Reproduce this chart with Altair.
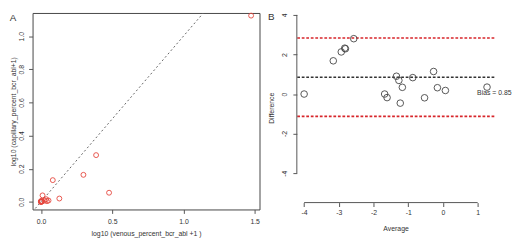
import altair as alt
import pandas as pd

# ---------------- Panel A data ----------------
a_venous = [1.475, 0.387, 0.298, 0.478, 0.083, 0.129, 0.011, 0.0, 0.0, 0.0,
            0.002, 0.005, 0.008, 0.025, 0.036, 0.042, 0.053, 0.0]
a_capillary = [1.124, 0.282, 0.163, 0.055, 0.131, 0.020, 0.039, 0.0, 0.004, 0.0,
               0.0, 0.006, 0.002, 0.008, 0.016, 0.004, 0.008, 0.002]
a_identity = [-0.06, 1.2]
a_xticks = [0.0, 0.5, 1.0, 1.5]
a_yticks = [0.0, 0.2, 0.4, 0.6, 0.8, 1.0]

# ---------------- Panel B data ----------------
b_average = [-4.0, -3.16, -2.93, -2.83, -2.81, -2.57, -1.68, -1.61, -1.34, -1.27,
             -1.17, -1.23, -0.87, -0.53, -0.27, -0.16, 0.07, 1.27]
b_difference = [0.0, 1.68, 2.13, 2.32, 2.29, 2.80, 0.0, -0.18, 0.90, 0.69,
                0.34, -0.46, 0.83, -0.19, 1.14, 0.32, 0.18, 0.35]
b_bias = 0.85
b_limits = [2.83, -1.13]
b_xticks = [-4, -3, -2, -1, 0, 1]
b_yticks = [-4, -2, 0, 2, 4]
b_bias_label = "Bias = 0.85"
b_bias_label_y = 0.05

FONT = "Liberation Sans"
TXT = "#333333"

dfA = pd.DataFrame({"v": a_venous, "c": a_capillary})
dfLine = pd.DataFrame({"v": a_identity, "c": a_identity})

xA = alt.Scale(domain=[-0.059, 1.534], nice=False, zero=False)
yA = alt.Scale(domain=[-0.046, 1.14], nice=False, zero=False)

common_axis = dict(domain=False, grid=False, tickColor="#555555", tickSize=4,
                   labelFont=FONT, labelFontSize=7, labelColor=TXT,
                   titleFont=FONT, titleFontSize=7, titleFontWeight="normal",
                   titleColor=TXT)

axA_x = alt.Axis(values=a_xticks, format=".1f", title="log10 (venous_percent_bcr_abl +1 )",
                 labelPadding=4.5, titlePadding=5, **common_axis)
axA_y = alt.Axis(values=a_yticks, format=".1f", title="log10 (capillary_percent_bcr_abl+1)",
                 labelAngle=-90, labelAlign="center", labelBaseline="bottom",
                 labelPadding=4.2, titlePadding=1.5, **common_axis)

lineA = alt.Chart(dfLine).mark_line(clip=True, color="#666666", strokeWidth=1,
                                    strokeDash=[2, 2.5]).encode(
    x=alt.X("v:Q", scale=xA, axis=axA_x),
    y=alt.Y("c:Q", scale=yA, axis=axA_y),
)
ptsA = alt.Chart(dfA).mark_point(shape="circle", size=25, filled=False,
                                 color="#e5463d", strokeWidth=0.9, opacity=1).encode(
    x=alt.X("v:Q", scale=xA, axis=axA_x),
    y=alt.Y("c:Q", scale=yA, axis=axA_y),
)
labA = alt.Chart(pd.DataFrame({"t": ["A"]})).mark_text(
    font=FONT, fontSize=10, color=TXT, align="center", baseline="middle"
).encode(x=alt.value(-20), y=alt.value(5), text="t:N")

panelA = alt.layer(lineA, ptsA, labA).properties(
    width=231, height=200,
    view=alt.ViewBackground(stroke="#444444", strokeWidth=1),
)

# ---------------- Panel B ----------------
dfB = pd.DataFrame({"a": b_average, "d": b_difference})
xB = alt.Scale(domain=[-4.21, 1.48], nice=False, zero=False)
yB = alt.Scale(domain=[-5.49, 4.1], nice=False, zero=False)

axB_x = alt.Axis(values=b_xticks, labelExpr="'' + datum.value", title="Average",
                 labelPadding=2.5, titlePadding=9, **common_axis)
axB_y = alt.Axis(values=b_yticks, labelExpr="'' + datum.value", title="Difference",
                 labelAngle=-90, labelAlign="center", labelBaseline="bottom",
                 labelPadding=5.5, titlePadding=6.5, **common_axis)

ptsB = alt.Chart(dfB).mark_point(shape="circle", size=45, filled=False,
                                 color="#444444", strokeWidth=0.9, opacity=1).encode(
    x=alt.X("a:Q", scale=xB, axis=axB_x),
    y=alt.Y("d:Q", scale=yB, axis=axB_y),
)
dfLim = pd.DataFrame({"y": b_limits})
limB = alt.Chart(dfLim).mark_rule(color="#d7262b", strokeWidth=1.6,
                                  strokeDash=[2.8, 1.8]).encode(
    y=alt.Y("y:Q", scale=yB, axis=axB_y)
)
biasB = alt.Chart(pd.DataFrame({"y": [b_bias]})).mark_rule(
    color="#333333", strokeWidth=1.6, strokeDash=[2.8, 1.8]).encode(
    y=alt.Y("y:Q", scale=yB, axis=axB_y)
)
yAxisLine = alt.Chart(pd.DataFrame({"y0": [min(b_yticks)], "y1": [max(b_yticks)]})).mark_rule(
    color="#555555", strokeWidth=1).encode(
    x=alt.value(0),
    y=alt.Y("y0:Q", scale=yB, axis=axB_y), y2="y1:Q",
)
xAxisLine = alt.Chart(pd.DataFrame({"x0": [min(b_xticks)], "x1": [max(b_xticks)]})).mark_rule(
    color="#555555", strokeWidth=1).encode(
    y=alt.value(193),
    x=alt.X("x0:Q", scale=xB, axis=axB_x), x2="x1:Q",
)
biasText = alt.Chart(pd.DataFrame({"x": [xB.domain[1]], "y": [b_bias_label_y],
                                   "t": [b_bias_label]})).mark_text(
    font=FONT, fontSize=7, color=TXT, align="center", baseline="middle"
).encode(
    x=alt.X("x:Q", scale=xB, axis=axB_x),
    y=alt.Y("y:Q", scale=yB, axis=axB_y),
    text="t:N",
)
labB = alt.Chart(pd.DataFrame({"t": ["B"]})).mark_text(
    font=FONT, fontSize=10, color=TXT, align="center", baseline="middle"
).encode(x=alt.value(-26), y=alt.value(4), text="t:N")

panelB = alt.layer(limB, biasB, yAxisLine, xAxisLine, ptsB, biasText, labB).properties(
    width=201, height=193,
    view=alt.ViewBackground(strokeWidth=0),
)

chart = alt.hconcat(panelA, panelB, spacing=6).properties(
    padding=0, background="white"
).configure_view(strokeWidth=0)

chart.save("out.html", embed_options={"renderer": "svg", "actions": False})
